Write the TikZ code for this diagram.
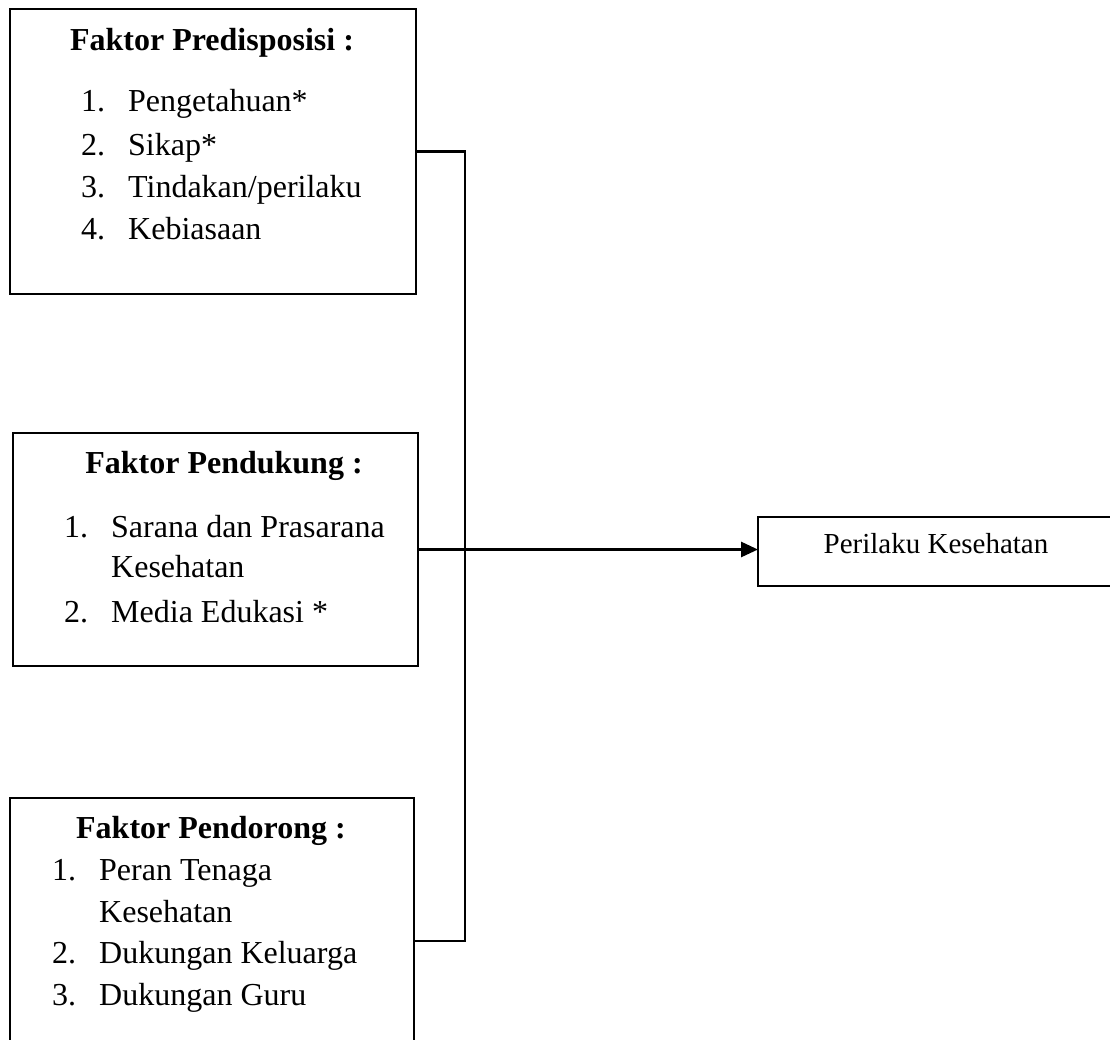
\documentclass[tikz,border=0pt]{standalone}
\usepackage{fontspec}
\setmainfont{Liberation Serif}
\usetikzlibrary{arrows.meta}
\tikzset{
  frame/.style={draw=black, line width=2.8pt, anchor=north west, inner sep=0pt, outer sep=0pt},
  txt/.style={anchor=base west, inner sep=0pt, font=\fontsize{32}{38}\selectfont},
  ttl/.style={anchor=base, inner sep=0pt, font=\fontsize{32}{38}\selectfont\bfseries},
  tgt/.style={anchor=base, inner sep=0pt, font=\fontsize{29}{35}\selectfont},
  wire/.style={line width=2.8pt},
}
\begin{document}
\begin{tikzpicture}[x=1pt,y=-1pt]
\useasboundingbox (0,0) rectangle (1110,1039);
\clip (0,0) rectangle (1110,1039);
% boxes
\node[frame, minimum width=406pt, minimum height=285pt] (b1) at (10,9) {};
\node[frame, minimum width=405pt, minimum height=233pt] (b2) at (13,433) {};
\node[frame, minimum width=404pt, minimum height=286pt] (b3) at (10,798) {};
\node[frame, minimum width=360pt, minimum height=69pt] (t) at (758,517) {};
% box 1 text
\node[ttl] (t1) at (212,50) {Faktor Predisposisi :};
\node[txt] (n11) at (81,111) {1.};
\node[txt] (i11) at (128,111) {Pengetahuan*};
\node[txt] (n12) at (81,155) {2.};
\node[txt] (i12) at (128,155) {Sikap*};
\node[txt] (n13) at (81,197) {3.};
\node[txt] (i13) at (128,197) {Tindakan/perilaku};
\node[txt] (n14) at (81,239) {4.};
\node[txt] (i14) at (128,239) {Kebiasaan};
% box 2 text
\node[ttl] (t2) at (224,473) {Faktor Pendukung :};
\node[txt] (n21) at (64,537) {1.};
\node[txt] (i21) at (111,537) {Sarana dan Prasarana};
\node[txt] (i21b) at (111,577) {Kesehatan};
\node[txt] (n22) at (64,622) {2.};
\node[txt] (i22) at (111,622) {Media Edukasi *};
% box 3 text
\node[ttl] (t3) at (211,838) {Faktor Pendorong :};
\node[txt] (n31) at (52,880) {1.};
\node[txt] (i31) at (99,880) {Peran Tenaga};
\node[txt] (i31b) at (99,922) {Kesehatan};
\node[txt] (n32) at (52,963) {2.};
\node[txt] (i32) at (99,963) {Dukungan Keluarga};
\node[txt] (n33) at (52,1005) {3.};
\node[txt] (i33) at (99,1005) {Dukungan Guru};
% target text
\node[tgt] (tt) at (936,553) {Perilaku Kesehatan};
% connectors
\coordinate (bus) at (465,0);
\draw[wire, line cap=rect] (b1.east) -- (b1.east -| bus) -- (b3.east -| bus) -- (b3.east);
\draw[wire, -{Triangle[length=17pt,width=15pt]}] (b2.east) -- (b2.east -| t.west);
\end{tikzpicture}
\end{document}
